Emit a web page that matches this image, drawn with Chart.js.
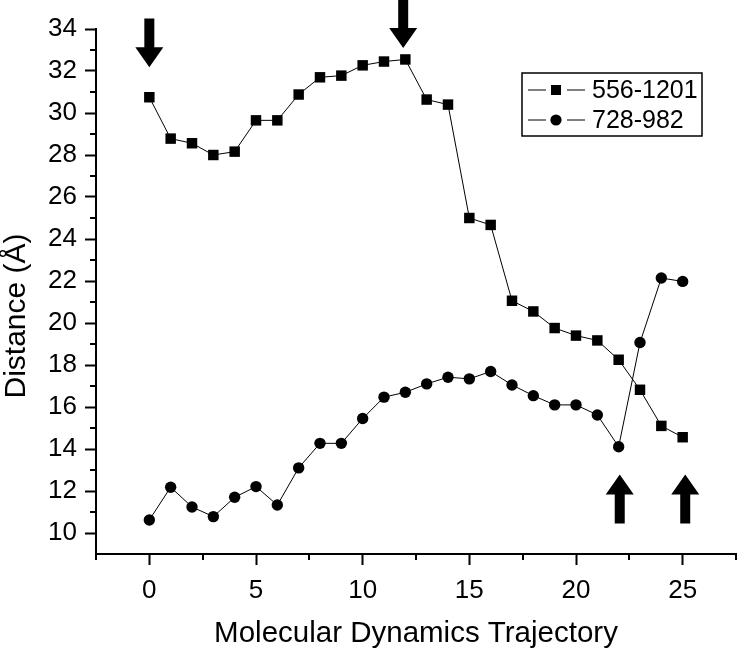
<!DOCTYPE html>
<html><head><meta charset="utf-8">
<script src="https://cdn.jsdelivr.net/npm/chart.js@4.4.0/dist/chart.umd.min.js"></script>
<style>html,body{margin:0;padding:0;background:#fff;}#wrap{width:746px;height:652px;}</style>
</head><body><div id="wrap"><canvas id="c" width="746" height="652"></canvas></div>
<script>
const trajectory = [0,1,2,3,4,5,6,7,8,9,10,11,12,13,14,15,16,17,18,19,20,21,22,23,24,25];
const series556 = [30.75,28.78,28.56,28.00,28.16,29.65,29.65,30.88,31.70,31.78,32.27,32.45,32.55,30.64,30.40,25.00,24.67,21.06,20.55,19.76,19.40,19.17,18.25,16.82,15.10,14.56];
const series728 = [10.62,12.18,11.24,10.78,11.70,12.21,11.33,13.10,14.27,14.27,15.45,16.47,16.70,17.10,17.42,17.34,17.69,17.05,16.54,16.10,16.10,15.62,14.11,19.07,22.14,21.98];
const seriesLabels = ['556-1201','728-982'];
const yTickLabels = [10,12,14,16,18,20,22,24,26,28,30,32,34];
const xTickLabels = [0,5,10,15,20,25];
const xTitle = 'Molecular Dynamics Trajectory';
const yTitle = 'Distance (Å)';
// annotation arrows: x in trajectory units, tail/tip in distance units
const arrowMarks = [
  {x:0, tail:34.5, tip:32.18},
  {x:11.9, tail:35.5, tip:33.1},
  {x:22.05, tail:10.45, tip:12.79},
  {x:25.12, tail:10.45, tip:12.79}
];
const FONT = '"Liberation Sans", Arial, sans-serif';

const extras = {
  id:'extras',
  afterDraw(chart){
    const ctx = chart.ctx, xs = chart.scales.x, ys = chart.scales.y;
    const ca = chart.chartArea;
    ctx.save();
    ctx.strokeStyle = '#000'; ctx.lineWidth = 2;
    // minor ticks
    for (let v = -2.5; v <= 27.5; v += 5) {
      const px = Math.round(xs.getPixelForValue(v));
      ctx.beginPath(); ctx.moveTo(px, ca.bottom); ctx.lineTo(px, ca.bottom + 6); ctx.stroke();
    }
    for (let v = 11; v <= 33; v += 2) {
      const py = Math.round(ys.getPixelForValue(v));
      ctx.beginPath(); ctx.moveTo(ca.left, py); ctx.lineTo(ca.left - 6, py); ctx.stroke();
    }
    // arrows
    ctx.fillStyle = '#000';
    arrowMarks.forEach(a => {
      const px = xs.getPixelForValue(a.x);
      const tailY = ys.getPixelForValue(a.tail);
      const tipY = ys.getPixelForValue(a.tip);
      const dir = tipY > tailY ? 1 : -1;
      const headLen = 20, hw = 14, sw = 5;
      const baseY = tipY - dir * headLen;
      ctx.beginPath();
      ctx.moveTo(px - sw, tailY); ctx.lineTo(px + sw, tailY);
      ctx.lineTo(px + sw, baseY); ctx.lineTo(px + hw, baseY);
      ctx.lineTo(px, tipY); ctx.lineTo(px - hw, baseY);
      ctx.lineTo(px - sw, baseY); ctx.closePath(); ctx.fill();
    });
    // legend
    const lx = 522, ly = 73, lw = 180, lh = 63;
    ctx.lineWidth = 1.5;
    ctx.strokeRect(lx, ly, lw, lh);
    ctx.font = '25px ' + FONT; ctx.textBaseline = 'middle'; ctx.textAlign = 'left';
    chart.data.datasets.forEach((ds, i) => {
      const ry = ly + 17 + i * 30;
      ctx.lineWidth = 1;
      ctx.beginPath(); ctx.moveTo(528, ry); ctx.lineTo(546, ry); ctx.moveTo(567, ry); ctx.lineTo(585, ry); ctx.stroke();
      if (ds.pointStyle === 'rect') ctx.fillRect(551, ry - 5, 10, 10);
      else { ctx.beginPath(); ctx.arc(556, ry, 5.6, 0, Math.PI*2); ctx.fill(); }
      ctx.fillText(ds.label, 592, ry + 1);
    });
    // y title
    ctx.save();
    ctx.translate(17, 316); ctx.rotate(-Math.PI/2);
    ctx.font = '30px ' + FONT; ctx.textAlign = 'center'; ctx.textBaseline = 'middle';
    ctx.fillText(yTitle, 0, 0);
    ctx.restore();
    // x title
    ctx.font = '29.5px ' + FONT; ctx.textAlign = 'center'; ctx.textBaseline = 'middle';
    ctx.fillText(xTitle, (ca.left + ca.right) / 2, 634);
    ctx.restore();
  }
};

new Chart(document.getElementById('c'), {
  type: 'line',
  data: {
    labels: trajectory,
    datasets: [
      { label: seriesLabels[0], data: trajectory.map((t,i)=>({x:t, y:series556[i]})),
        borderColor:'#000', borderWidth:1, backgroundColor:'#000', pointStyle:'rect',
        pointRadius:7.4, pointBorderWidth:0, pointBackgroundColor:'#000', tension:0 },
      { label: seriesLabels[1], data: trajectory.map((t,i)=>({x:t, y:series728[i]})),
        borderColor:'#000', borderWidth:1, backgroundColor:'#000', pointStyle:'circle',
        pointRadius:5.7, pointBorderWidth:0, pointBackgroundColor:'#000', tension:0 }
    ]
  },
  options: {
    responsive:false, animation:false, devicePixelRatio:1,
    layout:{ padding:{ top:29, right:2, left:0, bottom:0 } },
    plugins:{ legend:{display:false}, tooltip:{enabled:false} },
    scales:{
      x:{ type:'linear', min:-2.5, max:27.5,
        ticks:{ stepSize:2.5, autoSkip:false, maxRotation:0, padding:10, color:'#000',
          font:{ size:26, family:FONT },
          callback:(v)=> xTickLabels.includes(v) ? String(v) : '' },
        grid:{ drawOnChartArea:false, drawTicks:true, tickLength:11, tickWidth:2,
          tickColor:(c)=> (c.tick && xTickLabels.includes(c.tick.value)) ? '#000' : 'rgba(0,0,0,0)' },
        border:{ display:true, color:'#000', width:2 },
        afterFit:(s)=>{ s.height = 98; }
      },
      y:{ min:9, max:34,
        ticks:{ stepSize:1, autoSkip:false, padding:8, color:'#000',
          font:{ size:26, family:FONT },
          callback:(v)=> yTickLabels.includes(v) ? String(v) : '' },
        grid:{ drawOnChartArea:false, drawTicks:true, tickLength:11, tickWidth:2,
          tickColor:(c)=> (c.tick && yTickLabels.includes(c.tick.value)) ? '#000' : 'rgba(0,0,0,0)' },
        border:{ display:true, color:'#000', width:2 },
        afterFit:(s)=>{ s.width = 96; }
      }
    }
  },
  plugins:[extras]
});
</script></body></html>
